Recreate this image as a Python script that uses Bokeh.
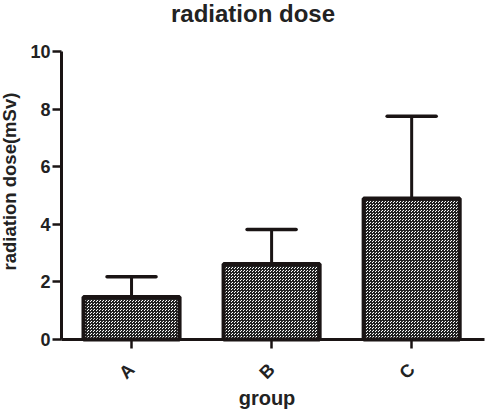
from bokeh.plotting import figure
from bokeh.models import ColumnDataSource, FixedTicker, Range1d, Label
from bokeh.embed import file_html
from bokeh.resources import INLINE
import math

# group means and standard deviations of the radiation dose (mSv)
groups = ["A", "B", "C"]
dose_mean = [1.48, 2.62, 4.9]
dose_sd = [0.7, 1.2, 2.85]
y_ticks = [0, 2, 4, 6, 8, 10]

FONT = "Liberation Sans"
INK = "#1a1414"
TEXT = "#222222"

W, H = 486, 412
# pixel layout of the plotting area inside the canvas
AX_LEFT, AX_RIGHT, AX_TOP, AX_BOTTOM = 61, 484, 51, 339
X_LO, X_HI = -0.5, 2.52   # category axis extent (bars centred on 0, 1, 2)
Y_LO, Y_HI = 0, 10        # value axis extent

# the frame spans the whole canvas so titles can sit inside it;
# extend both ranges accordingly
sx = (AX_RIGHT - AX_LEFT) / (X_HI - X_LO)
sy = (AX_BOTTOM - AX_TOP) / (Y_HI - Y_LO)
x_range = Range1d(X_LO - AX_LEFT / sx, X_HI + (W - AX_RIGHT) / sx)
y_range = Range1d(Y_LO - (H - AX_BOTTOM) / sy, Y_HI + AX_TOP / sy)

def px_to_x(px):
    return X_LO + (px - AX_LEFT) / sx

def py_to_y(py):
    return Y_HI - (py - AX_TOP) / sy

pos = list(range(len(groups)))
upper = [m + s for m, s in zip(dose_mean, dose_sd)]
src = ColumnDataSource(data=dict(x=pos, mean=dose_mean, upper=upper))

p = figure(
    width=W, height=H, x_range=x_range, y_range=y_range,
    output_backend="svg", toolbar_location=None,
    min_border=0,
)
p.title = None

# error bars (upper half only) with caps
p.segment(x0="x", y0="mean", x1="x", y1="upper", source=src,
          line_color=INK, line_width=3)
p.segment(x0=[x - 0.175 for x in pos], y0=upper,
          x1=[x + 0.175 for x in pos], y1=upper,
          line_color=INK, line_width=3.5, line_cap="round")

# bars with a fine checked fill
p.vbar(x="x", top="mean", width=0.686, bottom=0, source=src,
       fill_color="#ffffff", line_color=INK, line_width=4,
       hatch_pattern="criss_cross", hatch_scale=3, hatch_weight=1,
       hatch_color="#202020")

# chart title, axis titles
p.add_layout(Label(x=px_to_x(252.5), y=py_to_y(13), text="radiation dose",
                   text_align="center", text_baseline="alphabetic",
                   text_font=FONT, text_font_size="24px", text_font_style="bold",
                   text_color=TEXT))
p.add_layout(Label(x=px_to_x(8.5), y=py_to_y(270), text="radiation dose(mSv)",
                   angle=math.pi / 2, text_align="left", text_baseline="alphabetic",
                   text_font=FONT, text_font_size="18.5px", text_font_style="bold",
                   text_color=TEXT))
p.add_layout(Label(x=px_to_x(266.5), y=py_to_y(397), text="group",
                   text_align="center", text_baseline="alphabetic",
                   text_font=FONT, text_font_size="20px", text_font_style="bold",
                   text_color=TEXT))

p.grid.visible = False
p.outline_line_color = None
p.background_fill_color = "white"
p.border_fill_color = "white"

for ax in (p.xaxis[0], p.yaxis[0]):
    ax.axis_line_width = 3
    ax.axis_line_color = INK
    ax.major_tick_line_width = 2.5
    ax.major_tick_line_color = INK
    ax.major_tick_in = 0
    ax.major_tick_out = 9
    ax.minor_tick_line_color = None
    ax.major_label_text_font = FONT
    ax.major_label_text_font_style = "bold"
    ax.major_label_text_font_size = "18px"
    ax.major_label_text_color = TEXT

p.yaxis.ticker = FixedTicker(ticks=y_ticks)
p.yaxis.bounds = (Y_LO, Y_HI)
p.yaxis.fixed_location = X_LO
p.yaxis.major_label_standoff = 2

p.xaxis.ticker = FixedTicker(ticks=pos)
p.xaxis.bounds = (X_LO, X_HI)
p.xaxis.fixed_location = Y_LO
p.xaxis.major_label_overrides = {i: g for i, g in zip(pos, groups)}
p.xaxis.major_label_orientation = math.pi / 4
p.xaxis.major_label_standoff = 18

open("out.html", "w").write(file_html(p, INLINE))
